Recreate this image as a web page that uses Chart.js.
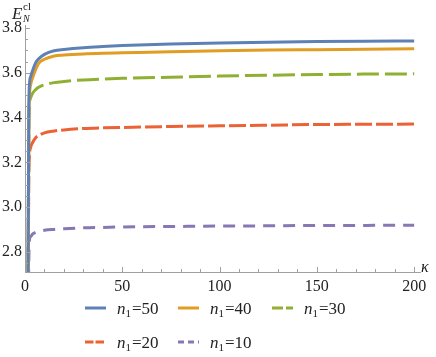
<html>
<head>
<meta charset="utf-8">
<script src="https://cdn.jsdelivr.net/npm/chart.js"></script>
<style>body { margin: 0; background: #fff; }</style>
</head>
<body>
<canvas id="graph" width="436" height="357"></canvas>
<script>
// kappa sample points shared by all curves
const kappa = [1.5, 2, 2.3, 3, 4, 5.5, 7, 10, 15, 20, 30, 40, 50, 75, 100, 125, 150, 175, 200]
const e50 = [2.60, 3.45, 3.55, 3.585, 3.612, 3.645, 3.662, 3.682, 3.698, 3.704, 3.712, 3.717, 3.721, 3.728, 3.733, 3.736, 3.739, 3.741, 3.742]
const e40 = [2.60, 3.40, 3.50, 3.55, 3.58, 3.615, 3.642, 3.66, 3.675, 3.679, 3.684, 3.687, 3.689, 3.694, 3.698, 3.701, 3.703, 3.705, 3.707]
const e30 = [2.60, 3.38, 3.46, 3.49, 3.51, 3.525, 3.535, 3.546, 3.556, 3.561, 3.568, 3.572, 3.575, 3.580, 3.585, 3.589, 3.592, 3.594, 3.595]
const e20 = [2.50, 3.15, 3.23, 3.27, 3.29, 3.31, 3.32, 3.332, 3.34, 3.345, 3.351, 3.354, 3.356, 3.360, 3.363, 3.366, 3.369, 3.370, 3.371]
const e10 = [2.40, 2.78, 2.855, 2.87, 2.881, 2.888, 2.892, 2.897, 2.901, 2.904, 2.908, 2.910, 2.912, 2.914, 2.916, 2.917, 2.919, 2.919, 2.920]

const seriesN = ["50", "40", "30", "20", "10"]
const seriesVals = [e50, e40, e30, e20, e10]
const colors = ["#5e81b5", "#e19c24", "#8fb032", "#eb6235", "#8778b3"]
const dashes = [[], [], [22, 6], [17, 4], [12, 8]]

const xTicks = [0, 50, 100, 150, 200]
const yTicks = [2.8, 3.0, 3.2, 3.4, 3.6, 3.8]

const serif = "'Liberation Serif', 'DejaVu Serif', serif"

const datasets = seriesVals.map((vals, i) => ({
    label: seriesN[i],
    data: kappa.map((k, j) => ({ x: k, y: vals[j] })),
    borderColor: colors[i],
    borderWidth: 3,
    borderDash: dashes[i],
    pointRadius: 0,
    fill: false,
    cubicInterpolationMode: 'monotone',
    clip: 0
}))

// inward ticks, axis titles and the two-row legend
const decor = {
    id: 'decor',
    afterDraw(chart) {
        const ctx = chart.ctx
        const xs = chart.scales.x, ys = chart.scales.y, a = chart.chartArea
        ctx.save()
        ctx.strokeStyle = '#a0a0a0'
        ctx.lineWidth = 1
        for (let v = 0; v <= 200; v += 10) {
            const px = Math.round(xs.getPixelForValue(v)) + 0.5
            const len = v % 50 == 0 ? 5 : 3
            ctx.beginPath(); ctx.moveTo(px, a.bottom); ctx.lineTo(px, a.bottom - len); ctx.stroke()
        }
        for (let i = 55; i <= 76; i++) {
            const py = Math.round(ys.getPixelForValue(i / 20)) + 0.5
            const len = i % 4 == 0 ? 5 : 3
            ctx.beginPath(); ctx.moveTo(a.left, py); ctx.lineTo(a.left + len, py); ctx.stroke()
        }

        // axis titles
        ctx.fillStyle = '#222'
        ctx.textBaseline = 'alphabetic'
        ctx.textAlign = 'left'
        ctx.font = "italic 17px " + serif
        ctx.fillText("E", 12, 19)
        ctx.font = "11px " + serif
        ctx.fillText("cl", 23, 10)
        ctx.font = "italic 10px " + serif
        ctx.fillText("N", 23, 22)
        ctx.font = "italic 16px " + serif
        ctx.fillText("κ", 421, 272)

        // legend
        const cols = [85, 178, 272], rows = [308, 342]
        chart.data.datasets.forEach((ds, i) => {
            const x = cols[i % 3], y = rows[Math.floor(i / 3)]
            ctx.strokeStyle = ds.borderColor
            ctx.lineWidth = 3
            ctx.setLineDash(ds.borderDash.map(d => d * 0.5))
            ctx.beginPath(); ctx.moveTo(x, y); ctx.lineTo(x + 21, y); ctx.stroke()
            ctx.setLineDash([])
            ctx.fillStyle = '#222'
            let tx = x + 32
            ctx.font = "italic 17px " + serif
            ctx.fillText("n", tx, y + 6)
            tx += ctx.measureText("n").width
            ctx.font = "11px " + serif
            ctx.fillText("1", tx, y + 9)
            tx += ctx.measureText("1").width + 1
            ctx.font = "17px " + serif
            ctx.fillText("=" + ds.label, tx, y + 6)
        })
        ctx.restore()
    }
}

new Chart(document.getElementById("graph"), {
    type: 'line',
    data: { datasets: datasets },
    plugins: [decor],
    options: {
        responsive: false,
        animation: false,
        layout: { padding: { top: 25, right: 16, left: 0, bottom: 0 } },
        plugins: { legend: { display: false }, tooltip: { enabled: false } },
        scales: {
            x: {
                type: 'linear',
                min: 0,
                max: 203,
                grid: { display: false, drawTicks: false },
                border: { color: '#a0a0a0' },
                afterBuildTicks: s => { s.ticks = xTicks.map(v => ({ value: v })) },
                afterFit: s => { s.height = 85 },
                ticks: { padding: 5, color: '#222', font: { family: serif, size: 16 }, maxRotation: 0 }
            },
            y: {
                type: 'linear',
                min: 2.711,
                max: 3.813,
                grid: { display: false, drawTicks: false },
                border: { color: '#a0a0a0' },
                afterBuildTicks: s => { s.ticks = yTicks.map(v => ({ value: v })) },
                afterFit: s => { s.width = 25 },
                ticks: { padding: 3, color: '#222', font: { family: serif, size: 16 }, callback: v => v.toFixed(1) }
            }
        }
    }
})
</script>
</body>
</html>
